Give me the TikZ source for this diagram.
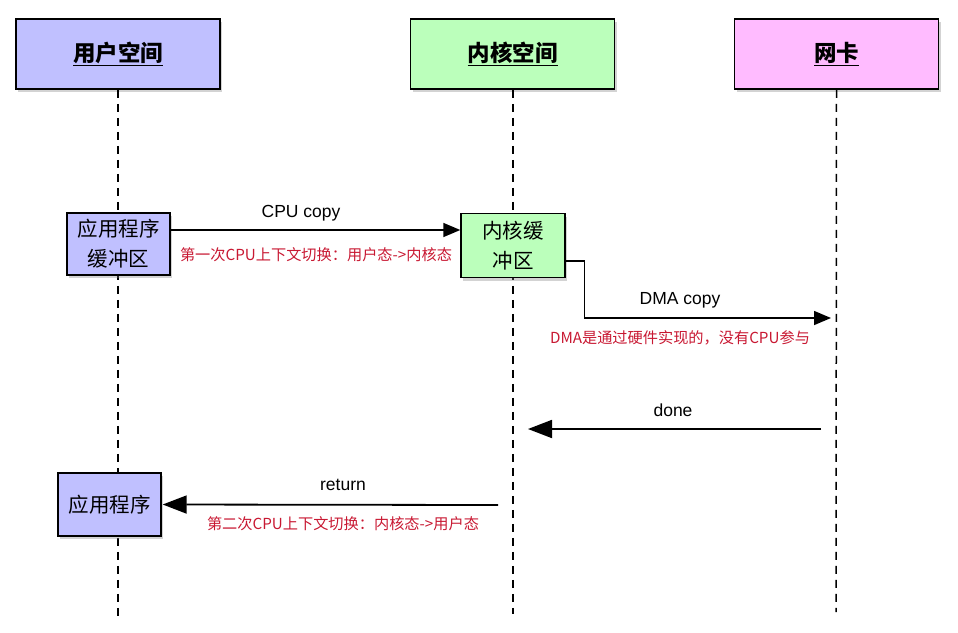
\documentclass[tikz,border=0pt]{standalone}
\usepackage{fontspec}
\setmainfont{Noto Sans CJK SC}
\newfontfamily\latinlbl{Liberation Sans}
\usetikzlibrary{shadows,arrows.meta}
\definecolor{ublue}{RGB}{192,192,255}
\definecolor{kgreen}{RGB}{187,255,187}
\definecolor{npink}{RGB}{255,187,255}
\definecolor{notered}{RGB}{200,24,50}
\tikzset{
  hdr/.style={draw=black, line width=1.6pt, minimum width=204pt, minimum height=70pt, inner sep=0pt,
    font=\fontsize{22.5}{26}\selectfont\bfseries,
    drop shadow={shadow xshift=2pt, shadow yshift=-3pt, opacity=0.35, fill=gray}},
  buf/.style={draw=black, line width=1.4pt, inner sep=0pt, align=center,
    font=\fontsize{20.5}{30}\selectfont,
    drop shadow={shadow xshift=2pt, shadow yshift=-3pt, opacity=0.35, fill=gray}},
  lifeline/.style={line width=1.5pt, dash pattern=on 8pt off 6pt},
  msg/.style={line width=1.5pt, -{Triangle[length=17pt,width=14pt]}},
  bigmsg/.style={line width=1.8pt, -{Triangle[length=24pt,width=18pt]}},
  lbl/.style={font=\latinlbl\fontsize{17.5}{20}\selectfont, inner sep=0pt},
  note/.style={font=\fontsize{15.2}{18}\selectfont, text=notered, inner sep=0pt}
}
\begin{document}
\begin{tikzpicture}[x=1pt,y=-1pt]
\useasboundingbox (0,0) rectangle (958,632);
% headers
\node[hdr, fill=ublue] (user) at (118,54) {\underline{用户空间}};
\node[hdr, fill=kgreen] (kern) at (512.5,54) {\underline{内核空间}};
\node[hdr, fill=npink] (nic) at (836.5,54) {\underline{网卡}};
% lifeline ends
\coordinate (userEnd) at (118,616);
\coordinate (kernEnd) at (513,614);
\coordinate (nicEnd) at (836,612);
\draw[lifeline] (user.south) -- (userEnd);
\draw[lifeline] ([xshift=0.5pt]kern.south) -- (kernEnd);
\draw[lifeline] (nic.south) -- (nicEnd);
% boxes
\node[buf, fill=ublue, minimum width=103pt, minimum height=62pt] (ubuf) at (118.5,244) {应用程序\\缓冲区};
\node[buf, fill=kgreen, minimum width=104pt, minimum height=64pt] (kbuf) at (513,245.5) {内核缓\\冲区};
\node[buf, fill=ublue, minimum width=103pt, minimum height=63pt] (app) at (109.5,504.5) {应用程序};
% CPU copy
\draw[msg] ([yshift=14pt]ubuf.east) -- ([yshift=15.5pt]kbuf.west);
\node[lbl] (cpulbl) at (301,213) {CPU copy};
\node[note] (n1) at (316,255) {第一次CPU上下文切换：用户态->内核态};
% DMA copy
\coordinate (dmaEnd) at (831,318);
\draw[msg] ([yshift=-15.5pt]kbuf.east) -- ++(19,0) |- (dmaEnd);
\node[lbl] (dmalbl) at (680,300) {DMA copy};
\node[note] (n2) at (680,338) {DMA是通过硬件实现的，没有CPU参与};
% done
\coordinate (doneS) at (821,429);
\coordinate (doneE) at (528,429);
\draw[bigmsg] (doneS) -- (doneE);
\node[lbl] (donelbl) at (673,410) {done};
% return
\coordinate (retS) at (498,505);
\draw[bigmsg] (retS) -- ([xshift=1pt]app.east);
\node[lbl] (retlbl) at (343,485) {return};
\node[note] (n3) at (343,524) {第二次CPU上下文切换：内核态->用户态};
\end{tikzpicture}
\end{document}
